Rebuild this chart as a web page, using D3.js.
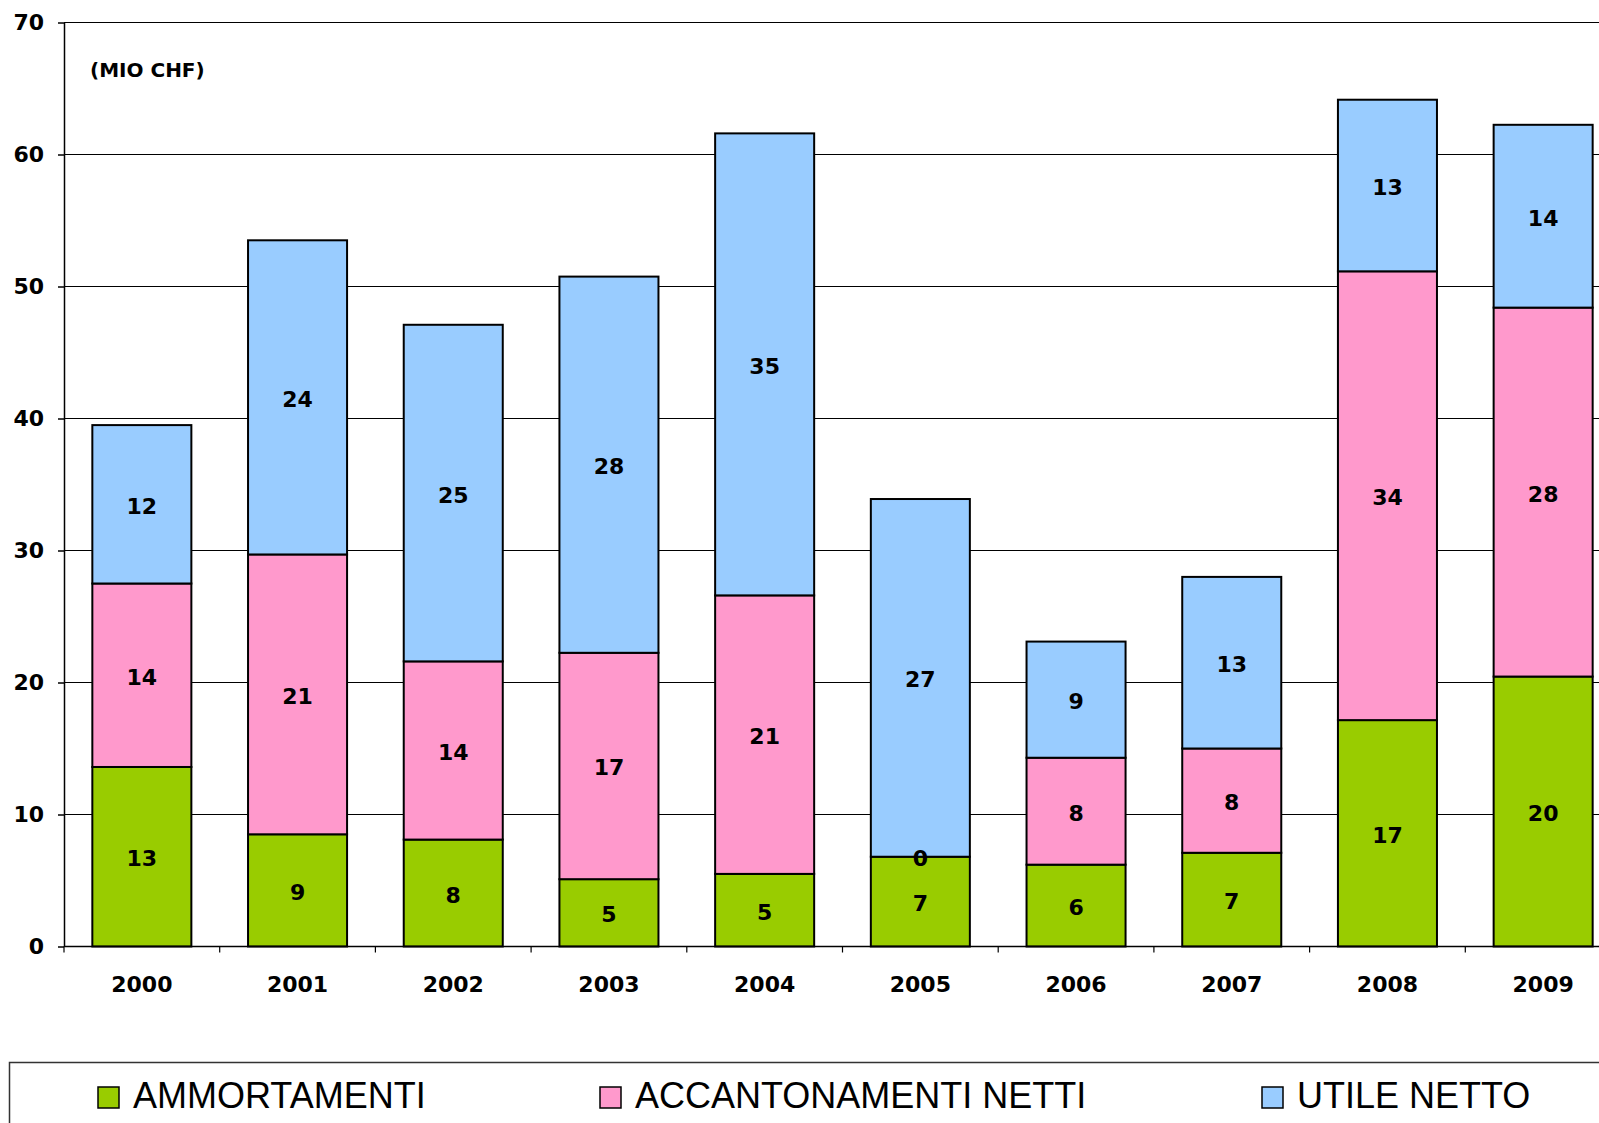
<!DOCTYPE html>
<html>
<head>
  <meta charset="utf-8">
  <title>Mio CHF</title>
  <script src="https://d3js.org/d3.v7.min.js"></script>
  <style>
    body { margin: 0; background: #fff; }
    .asse text { font-family: "DejaVu Sans", Verdana, sans-serif; font-weight: bold; fill: #000; }
    .valori text { font-family: "DejaVu Sans", Verdana, sans-serif; font-weight: bold; font-size: 22px; fill: #000; }
    .legenda text { font-family: "Liberation Sans", Arial, sans-serif; font-size: 36px; fill: #000; }
  </style>
</head>
<body>
<div id="grafico"></div>
<script>
"use strict"

// dati (mio CHF)
var anni = ['2000', '2001', '2002', '2003', '2004', '2005', '2006', '2007', '2008', '2009'];
var ammortamenti   = [13.6, 8.5, 8.1, 5.1, 5.5, 6.8, 6.2, 7.1, 17.15, 20.45];
var accantonamenti = [13.9, 21.2, 13.5, 17.15, 21.1, 0, 8.1, 7.9, 34.0, 27.95];
var utileNetto     = [12.0, 23.8, 25.5, 28.5, 35.0, 27.1, 8.8, 13.0, 13.0, 13.85];
// etichette come scritte nelle barre
var etichetteAmm = [13, 9, 8, 5, 5, 7, 6, 7, 17, 20];
var etichetteAcc = [14, 21, 14, 17, 21, 0, 8, 8, 34, 28];
var etichetteUtile = [12, 24, 25, 28, 35, 27, 9, 13, 13, 14];
var ticksY = [0, 10, 20, 30, 40, 50, 60, 70];
var serie = ['AMMORTAMENTI', 'ACCANTONAMENTI NETTI', 'UTILE NETTO'];
var colori = ['#99cc00', '#ff99cc', '#99ccff'];

var larguraSVG = 1599, alturaSVG = 1123;
var x0 = 64, xFine = 64 + 10 * 155.7, yTop = 22.5, yZero = 946.5;

var svg = d3.select('#grafico').append('svg')
    .attr('width', larguraSVG)
    .attr('height', alturaSVG);

svg.append('rect').attr('width', larguraSVG).attr('height', alturaSVG).attr('fill', '#fff');

var tabella = anni.map(function(a, i) {
  return { anno: a, amm: ammortamenti[i], acc: accantonamenti[i], utile: utileNetto[i] };
});
var etichette = { amm: etichetteAmm, acc: etichetteAcc, utile: etichetteUtile };
var chiavi = ['amm', 'acc', 'utile'];

var stack = d3.stack().keys(chiavi)(tabella);

var x = d3.scaleBand()
    .domain(anni)
    .range([x0, xFine])
    .paddingInner(0.364)
    .paddingOuter(0.182);

var y = d3.scaleLinear()
    .domain([0, 70])
    .range([yZero, yTop]);

// griglia orizzontale
svg.append('g')
  .selectAll('line')
  .data(ticksY.filter(function(t) { return t > 0; }))
  .enter().append('line')
  .attr('x1', x0).attr('x2', larguraSVG)
  .attr('y1', function(d) { return y(d); })
  .attr('y2', function(d) { return y(d); })
  .attr('stroke', '#000')
  .attr('stroke-width', 1.2);

// barre
var gruppi = svg.append('g').selectAll('g')
  .data(stack)
  .enter().append('g')
  .attr('fill', function(d, i) { return colori[i]; });

gruppi.selectAll('rect')
  .data(function(d) { return d; })
  .enter().append('rect')
  .attr('x', function(d) { return x(d.data.anno); })
  .attr('y', function(d) { return y(d[1]); })
  .attr('width', x.bandwidth())
  .attr('height', function(d) { return y(d[0]) - y(d[1]); })
  .attr('stroke', '#000')
  .attr('stroke-width', 2);

// valori nelle barre
var valori = svg.append('g').attr('class', 'valori');
stack.forEach(function(s) {
  valori.selectAll(null)
    .data(s)
    .enter().append('text')
    .attr('x', function(d) { return x(d.data.anno) + x.bandwidth() / 2; })
    .attr('y', function(d) { return (y(d[0]) + y(d[1])) / 2 + 2; })
    .attr('text-anchor', 'middle')
    .attr('dominant-baseline', 'central')
    .text(function(d, i) { return etichette[s.key][i]; });
});

// asse y
var assey = svg.append('g')
  .attr('class', 'asse')
  .attr('transform', 'translate(' + x0 + ',0)')
  .call(d3.axisLeft(y).tickValues(ticksY).tickSize(6).tickPadding(14).tickSizeOuter(0));
assey.selectAll('text').style('font-size', '22px');
assey.selectAll('line, path').attr('stroke', '#000').attr('stroke-width', 1.5);

// asse x
var confini = d3.range(anni.length + 1).map(function(i) { return x0 + i * x.step(); });
var assex = svg.append('g').attr('class', 'asse');
assex.append('line')
  .attr('x1', x0).attr('x2', larguraSVG)
  .attr('y1', yZero).attr('y2', yZero)
  .attr('stroke', '#000').attr('stroke-width', 1.5);
assex.selectAll('line.tick')
  .data(confini)
  .enter().append('line')
  .attr('class', 'tick')
  .attr('x1', function(d) { return d; }).attr('x2', function(d) { return d; })
  .attr('y1', yZero).attr('y2', yZero + 6)
  .attr('stroke', '#000').attr('stroke-width', 1.2);
assex.selectAll('text')
  .data(anni)
  .enter().append('text')
  .attr('x', function(d) { return x(d) + x.bandwidth() / 2; })
  .attr('y', yZero + 45)
  .attr('text-anchor', 'middle')
  .style('font-size', '22px')
  .text(function(d) { return d; });

svg.append('text')
  .attr('class', 'asse')
  .attr('x', 90)
  .attr('y', 77)
  .style('font-family', '"DejaVu Sans", Verdana, sans-serif')
  .style('font-weight', 'bold')
  .style('font-size', '20px')
  .text('(MIO CHF)');

// legenda
var legenda = svg.append('g').attr('class', 'legenda');
legenda.append('rect')
  .attr('x', 9.5).attr('y', 1062.5)
  .attr('width', 1620).attr('height', 100)
  .attr('fill', 'none')
  .attr('stroke', '#333')
  .attr('stroke-width', 1.5);

var posLegenda = [98, 600, 1262];
var voci = legenda.selectAll('g')
  .data(serie)
  .enter().append('g')
  .attr('transform', function(d, i) { return 'translate(' + posLegenda[i] + ',1087)'; });
voci.append('rect')
  .attr('width', 21).attr('height', 21)
  .attr('fill', function(d, i) { return colori[i]; })
  .attr('stroke', '#000')
  .attr('stroke-width', 1.5);
voci.append('text')
  .attr('x', 35)
  .attr('y', 21)
  .text(function(d) { return d; });
</script>
</body>
</html>
